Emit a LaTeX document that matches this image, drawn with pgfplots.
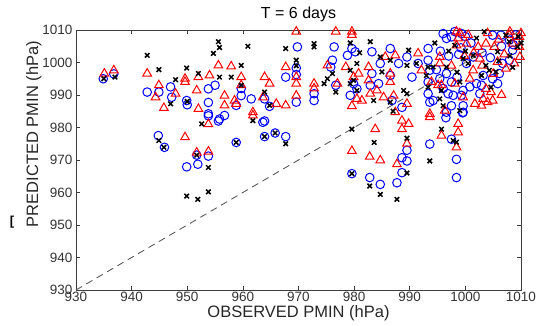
\documentclass[border=0pt]{standalone}
\usepackage{pgfplots}
\pgfplotsset{compat=1.18}
\usepackage{fontspec}
\setmainfont{Liberation Sans}
\definecolor{axgray}{RGB}{60,60,60}
\definecolor{dashgray}{RGB}{90,90,90}
\begin{document}
\begin{tikzpicture}
\begin{axis}[
  at={(0pt,0pt)}, anchor=south west,
  scale only axis, width=445pt, height=260pt,
  xmin=930, xmax=1010, ymin=930, ymax=1010,
  xtick={930,940,...,1010}, ytick={930,940,...,1010},
  tick align=inside, major tick length=4pt,
  axis line style={axgray, line width=0.9pt},
  every tick/.style={axgray, line width=0.7pt},
  /pgf/number format/assume math mode=true,
  /pgf/number format/set thousands separator={},
  tick label style={font=\fontsize{13.5}{15}\selectfont, text=black!80},
  xticklabel style={yshift=1pt},
  title={T = 6 days}, title style={font=\fontsize{16}{18}\selectfont, yshift=-1pt},
  xlabel={OBSERVED PMIN (hPa)}, ylabel={PREDICTED PMIN (hPa)},
  label style={font=\fontsize{16.5}{18}\selectfont, text=black!85},
  xlabel style={yshift=3pt},
  ylabel style={yshift=-6pt, xshift=26pt},
  clip=false,
]
\addplot[dashed, dashgray, line width=0.9pt, dash pattern=on 7pt off 5pt] coordinates {(930,930) (1010,1010)};
% blue circles
\addplot[only marks, mark=o, mark size=4.3pt, blue, mark options={line width=1pt}] coordinates {
(934.9,995)(936.8,996.5)(942.8,990.9)(944.9,990.9)(947,992.5)(947.2,989.3)(949.9,988.3)(950,987)
(953.8,991.9)(953.8,987.7)(953.8,984.2)(955,993)(959.7,992)(959.7,989.8)(961.5,988.8)(958.8,986.8)
(963.9,988.8)(964.8,986.5)(967.7,995.5)(969.8,1004.8)(969.6,998.3)(969.6,996.3)(969.6,987.8)
(972.8,990.4)(972.8,988.3)(976.1,1000.7)(975.8,998.6)(976.4,1004.8)(978.8,1002.2)(979.6,1004.3)
(980.2,1003.3)(979.9,993.5)(980.5,991.9)(979.3,989.9)(976.7,993)(944.8,977.5)(945.9,973.9)
(951.7,971.5)(953.8,971.2)(949.9,967.9)(951.9,968.7)(953.8,983.6)(955.6,982)(956.7,983.7)
(955.8,982.6)(958.8,975.4)(963.9,977.2)(965.8,978.3)(967.7,977.2)(963.9,982)(963.6,981.6)
(979.6,965.8)(982.8,964.6)(984.7,962.5)(987.7,963)(988.6,970.7)(989.5,969.7)(988.6,966.1)
(989.5,973)(993.6,974.9)(998.4,970.2)(998.4,964.6)(997.5,976.4)(996.5,983)(999.5,984.5)
(983.2,1003.3)(986.5,1004.3)(984.7,999.7)(983.2,996.6)(982.9,993)(988,999.7)(989.5,1001.7)
(986.5,996)(986.8,988.3)(988.6,986.2)(984.4,993.5)(993.3,1004.3)(993.3,1000.7)(993.6,997.6)
(993.3,994)(993.3,990.4)(993.6,987.8)(996,1008.9)(996.6,1007.4)(997.5,1007.9)(998.1,1009.5)
(999.3,1008.9)(995.4,995)(996.6,996.6)(997.5,994)(996.9,990.4)(997.8,989.9)(999.3,989.9)
(999.6,991.4)(999.6,986.7)(999.6,984.7)(996.6,984.7)(997.5,986.7)(994.2,988.3)(991.5,999.7)
(990.4,995.5)(1004.9,1008.4)(1006.4,1008.4)(1007.9,1006.9)(1008.5,1003.8)(1007.9,1000.7)
(1006.7,999.7)(1006.1,996.6)(1003.2,996)(1004.9,995)(1005.8,993.5)(1002,993.5)(1002.9,993)
(1002.6,990.4)(1001.4,1001.7)(1000.2,999.7)(998.8,1002.5)(999.2,1004.5)(1000,1008)(997,1002)
(995.5,1003.5)(1001,1006)(1003,1003)(1004.5,1001.5)(1009,1008.5)(1008.6,1005.5)(998.5,995.5)
(996,992)(994.8,997.8)(1000.8,992.5)(1006.5,1005)
};
% red triangles
\addplot[only marks, mark=triangle, mark size=5pt, red, mark options={line width=1pt}] coordinates {
(935.1,996.6)(936.8,997.6)(942.8,996.6)(944.9,993)(944.3,989.3)(947.9,990.4)(945.8,986)(949.6,994)
(949.6,995)(952,995.5)(951.7,991.4)(952,985.7)(955.6,999.1)(954,996)(957.9,998.8)(959.7,995.5)
(959.7,993)(956.7,989.8)(958.5,988.3)(961.8,984.7)(963.9,995.5)(964.8,993.5)(963.6,989.3)
(966,987.3)(967.7,986.8)(967.7,998.6)(969.6,1009.5)(969.6,995.5)(969.6,993.5)(969.6,989.8)
(972.8,993.5)(972.8,992)(975.2,999.1)(976.7,1009.5)(979.6,1009.5)(979.6,1008.5)(978.5,998.6)
(979.9,995.5)(980.8,996.6)(980.5,988.8)(981.4,988.3)(977,993.5)(979.6,986.6)(949.6,977)
(951.7,972.3)(953.8,972.6)(953.8,981)(961.8,983.7)(956.7,986.8)(958.8,987.3)(979.6,972.8)
(983.8,979.5)(982.8,971)(984.7,969.9)(987.7,968.7)(988.6,982.1)(989.8,981.1)(988.6,979.5)
(989.5,975)(993.6,983.2)(998.4,973.9)(995.7,977.5)(998.7,978.5)(998.7,981.1)(985.6,1001.7)
(987.4,1002.2)(982.6,998.6)(982.6,994.5)(982.9,990.4)(986.5,996.6)(986.5,994)(984.1,991.4)
(985.3,989.3)(987.1,989.8)(989.5,987.3)(987.4,984.7)(992.1,997.6)(993.9,994)(995.4,999.7)
(995.4,1001.7)(998.4,1009.5)(999,1009)(998.7,1007.4)(998.4,1005.3)(995.1,993)(995.7,993)
(998.1,993.5)(999.6,989.3)(996.3,985.2)(991.5,1002.8)(993.6,984.2)(1000.2,1005.8)(1002.3,1004.8)
(1003.7,1005.8)(1005.2,1004.8)(1007.9,1008.4)(1008.5,1005.8)(1009.7,1004.8)(1008.8,999.7)
(1007.3,998.1)(1005.8,1000.2)(1002.6,1001.2)(1001.4,997.6)(1000.8,995)(1003.7,991.9)
(1004.6,990.9)(1003.2,988.8)(1004,987.8)(1004.9,988.3)(1001.7,987.3)(1002.9,986.7)
(1009.7,1007.9)(1009.8,1001.7)(1006,1007)(1004,1009)(1001.5,1003)(999.8,1002)(1007,1002.5)
(1005,996.5)(1003,999)(1008,1009.5)(1010,1009)(997.5,999)(1000.5,1008.5)(1006.5,990)
};
% black crosses
\addplot[only marks, mark=x, mark size=3.2pt, black, mark options={line width=1.5pt}] coordinates {
(935,995)(937,995.5)(942.8,1002.2)(944.9,997.8)(947.9,994.7)(947,987.3)(949.9,998.3)(950,988)
(952,996.6)(954.7,1002.8)(955.6,1006.4)(955.8,1004.6)(955.8,995.5)(957.9,995.5)(959.7,999.1)
(960.9,1005)(959.7,993)(963.9,990.9)(964.8,986.8)(967.7,1004.3)(969.6,1000.7)(969.6,999)
(972.8,1005.8)(972.8,1004.8)(974.6,993.5)(975.2,995)(976.1,996.6)(976.7,990.9)(979.3,997.6)
(979.9,994.5)(979.3,993.5)(980.5,999.7)(980.5,991.4)(979.3,1006)(981,1003)(944.9,976)
(945.8,973.9)(951.7,971.5)(953.8,967.7)(949.9,958.9)(951.9,957.9)(953.8,960.2)(952.6,981.1)
(958.8,975.4)(963.9,977.2)(965.8,978.3)(967.7,975)(961.8,982.1)(979.6,979.5)(979.6,965.8)
(983.6,975.4)(982.8,962)(984.7,959.4)(987.7,957.9)(989.5,966)(989.5,976.7)(993.6,969.7)
(995.7,979.5)(998.4,975.5)(997.8,976)(982.9,1006.4)(984.7,1001.7)(986.5,1000.7)(989.8,1003.8)
(989.5,999.1)(983.5,988.3)(986.5,987.8)(988.9,991.4)(989.5,990.4)(985,997.1)(991.2,999.7)
(993.3,998.6)(994.2,998.6)(993.3,992.4)(998.1,1005.3)(996.6,998.6)(995.7,991.4)(999,994)
(995.4,988.8)(999,985.2)(996,986.7)(1003.4,1009.5)(1007.3,1008.4)(1007.9,1006.4)(1009.4,1004.8)
(1005.8,1003.3)(1001.4,1002.2)(999.6,1001.2)(1000.5,999.7)(1003.7,999.1)(1004.3,997.6)
(1002.9,996)(1005.5,997.1)(1004.6,992.4)(1008,1002)(1010,1006)(1009.5,1008)(987,985)(993,996)
(998.5,997)(997,1003.5)(1002,1007.5)(1006,1000.5)(1000,1003.5)(994.5,1006)(1008.5,998.5)
};
\end{axis}
\node[font=\fontsize{13}{14}\selectfont\bfseries] at (-64pt,68pt) {[};
\pgfresetboundingbox
\path[use as bounding box] (-76pt,-36pt) rectangle (463pt,290pt);
\end{tikzpicture}
\end{document}
